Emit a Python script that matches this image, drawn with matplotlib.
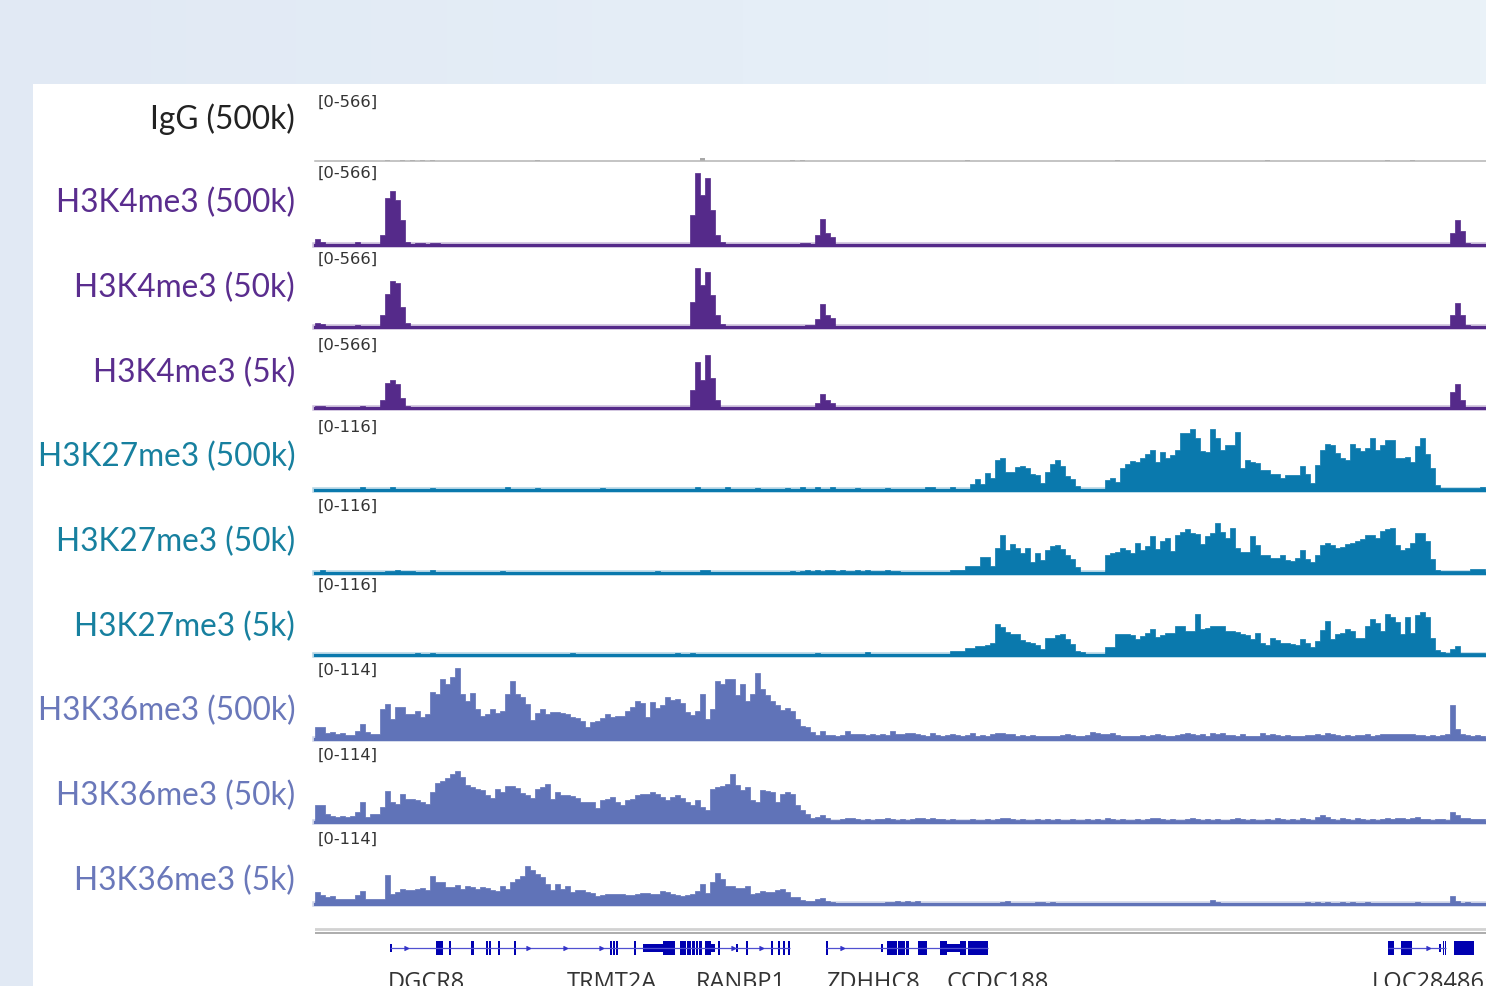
import numpy as np
import matplotlib
matplotlib.use("Agg")
import matplotlib.pyplot as plt
from matplotlib.colors import LinearSegmentedColormap
from matplotlib.patches import Rectangle

# ---------------- data ----------------
# genomic window in kb, signal binned at 0.5 kb
BIN = 0.5
N = 234
REGION_KB = 117.1

# sparse tracks: {bin index: value}, everything else sits at the floor value
igg_floor = 3
igg_peaks = {14: 8, 17: 7, 19: 7, 21: 8, 23: 7, 44: 5, 77: 22, 95: 7, 97: 7,
             130: 5, 160: 5, 190: 5, 214: 5, 219: 5}

k4_floor = 3
k4_500k = {0: 42, 1: 25, 8: 20, 13: 73, 14: 341, 15: 392, 16: 327, 17: 182, 18: 22,
           20: 15, 21: 12, 23: 15, 24: 12,
           75: 218, 76: 523, 77: 363, 78: 486, 79: 254, 80: 73, 81: 22,
           97: 12, 98: 15, 100: 73, 101: 189, 102: 87, 103: 58, 127: 10,
           227: 87, 228: 182, 229: 102, 230: 15}
k4_50k = {0: 29, 1: 22, 8: 15, 13: 87, 14: 240, 15: 334, 16: 320, 17: 145, 18: 29,
          19: 8, 20: 8, 21: 8, 22: 8, 23: 8, 24: 8,
          75: 182, 76: 428, 77: 305, 78: 399, 79: 232, 80: 87, 81: 22,
          98: 12, 99: 15, 100: 58, 101: 167, 102: 87, 103: 65,
          227: 87, 228: 174, 229: 87, 230: 15}
k4_5k = {0: 15, 1: 15, 9: 15, 13: 58, 14: 182, 15: 203, 16: 174, 17: 73, 18: 15,
         62: 10, 75: 131, 76: 334, 77: 203, 78: 385, 79: 218, 80: 58,
         100: 36, 101: 102, 102: 58, 103: 36, 126: 8,
         227: 116, 228: 174, 229: 58}

k27_500k = [
    2, 2, 2, 2, 2, 2, 2, 2, 2, 4,
    2, 2, 2, 2, 2, 4, 2, 2, 2, 2,
    2, 2, 2, 3, 2, 2, 2, 2, 2, 2,
    2, 2, 2, 2, 2, 2, 2, 2, 4, 2,
    2, 2, 2, 2, 3, 2, 2, 2, 2, 2,
    2, 2, 2, 2, 2, 2, 2, 3, 2, 2,
    2, 2, 2, 2, 2, 2, 2, 2, 2, 2,
    2, 2, 2, 2, 2, 2, 4, 2, 2, 2,
    2, 2, 4, 2, 2, 2, 2, 2, 3, 2,
    2, 2, 2, 2, 3, 2, 2, 4, 2, 2,
    4, 2, 2, 4, 2, 2, 2, 2, 3, 2,
    2, 2, 2, 2, 3, 2, 2,
    2, 2, 2, 2, 2, 4, 4, 2, 2, 2,
    4, 2, 2, 2, 9, 16, 9, 25, 18, 45,
    48, 27, 27, 34, 36, 33, 24, 22, 10, 27,
    39, 45, 36, 21, 16, 6, 2, 2, 2, 2,
    2, 15, 18, 12, 33, 39, 43, 42, 48, 54,
    60, 42, 57, 48, 52, 60, 85, 85, 90, 78,
    58, 57, 90, 78, 60, 67, 67, 87, 33, 45,
    42, 40, 30, 30, 24, 24, 18, 22, 22, 22,
    36, 24, 10, 37, 60, 69, 67, 55, 48, 45,
    69, 63, 58, 63, 78, 60, 67, 75, 75, 48,
    48, 49, 42, 66, 78, 54, 33, 7, 3, 3,
    3, 3, 3, 3, 3, 3, 4]

k27_50k = [
    2, 4, 2, 2, 2, 2, 2, 2, 2, 2,
    2, 2, 2, 2, 3, 3, 4, 3, 3, 3,
    2, 2, 2, 4, 2, 2, 2, 2, 2, 2,
    2, 2, 2, 2, 2, 2, 2, 3, 2, 2,
    2, 2, 2, 2, 2, 2, 2, 2, 2, 2,
    2, 2, 2, 2, 2, 2, 2, 2, 2, 2,
    2, 2, 2, 2, 2, 2, 2, 2, 3, 2,
    2, 2, 2, 2, 2, 2, 2, 5, 4, 2,
    2, 2, 2, 2, 2, 2, 2, 2, 2, 2,
    2, 2, 2, 2, 2, 3, 2, 3, 4, 3,
    4, 3, 4, 5, 3, 4, 3, 3, 4, 3,
    4, 3, 3, 3, 4, 3, 3,
    2, 2, 2, 2, 2, 2, 2, 2, 2, 2,
    4, 4, 4, 10, 10, 10, 24, 24, 10, 37,
    57, 34, 43, 37, 30, 37, 16, 30, 20, 34,
    40, 42, 36, 27, 21, 9, 2, 2, 2, 2,
    2, 27, 30, 31, 37, 34, 30, 45, 34, 40,
    55, 36, 48, 52, 33, 57, 61, 66, 60, 58,
    43, 55, 60, 75, 61, 52, 67, 37, 31, 31,
    55, 42, 27, 27, 22, 22, 27, 19, 18, 22,
    34, 21, 16, 27, 42, 45, 42, 37, 39, 43,
    45, 48, 51, 57, 57, 52, 63, 66, 67, 42,
    34, 37, 45, 60, 60, 48, 21, 4, 3, 3,
    3, 3, 3, 3, 6, 6, 6]

k27_5k = [
    2, 2, 2, 2, 2, 2, 2, 2, 2, 2,
    2, 2, 2, 2, 2, 2, 2, 2, 2, 2,
    3, 2, 2, 3, 2, 2, 2, 2, 2, 2,
    2, 2, 2, 2, 2, 2, 2, 2, 2, 2,
    2, 2, 2, 2, 2, 2, 2, 2, 2, 2,
    2, 3, 2, 2, 2, 2, 2, 2, 2, 2,
    2, 2, 2, 2, 2, 2, 2, 2, 2, 2,
    2, 2, 3, 2, 2, 3, 2, 2, 2, 2,
    2, 2, 2, 2, 2, 2, 2, 2, 2, 2,
    2, 2, 2, 2, 2, 2, 2, 2, 2, 2,
    3, 2, 2, 2, 2, 2, 2, 2, 2, 2,
    4, 2, 2, 2, 2, 2, 2,
    2, 2, 2, 2, 2, 2, 2, 2, 2, 2,
    6, 6, 6, 10, 10, 13, 13, 15, 18, 46,
    42, 34, 31, 31, 22, 19, 18, 15, 9, 25,
    25, 30, 31, 24, 16, 6, 4, 2, 2, 2,
    2, 12, 12, 31, 31, 31, 30, 24, 28, 33,
    39, 27, 30, 33, 33, 43, 43, 36, 36, 61,
    39, 40, 43, 43, 43, 36, 36, 34, 31, 30,
    24, 33, 18, 15, 25, 22, 18, 18, 16, 15,
    24, 18, 12, 21, 37, 51, 24, 31, 33, 39,
    36, 25, 25, 43, 54, 48, 36, 61, 57, 49,
    31, 57, 33, 60, 64, 57, 25, 7, 4, 3,
    9, 13, 3, 3, 3, 3, 3]

k36_500k = [
    18, 18, 9, 10, 7, 9, 6, 6, 12, 22,
    10, 7, 7, 44, 51, 29, 47, 47, 37, 37,
    41, 32, 37, 69, 66, 88, 80, 91, 104, 66,
    55, 67, 44, 34, 37, 44, 38, 41, 66, 85,
    66, 61, 51, 28, 38, 44, 37, 39, 39, 38,
    37, 32, 31, 26, 18, 25, 26, 31, 37, 32,
    34, 34, 41, 47, 55, 53, 32, 54, 45, 50,
    61, 57, 58, 53, 39, 35, 41, 66, 29, 44,
    85, 80, 88, 88, 64, 80, 55, 66, 96, 73,
    64, 55, 50, 42, 45, 41, 29, 19, 18, 10,
    6, 12, 6,
    6, 5, 6, 12, 7, 8, 7, 6, 8, 6,
    7, 6, 12, 8, 8, 9, 9, 7, 6, 5,
    9, 6, 5, 6, 7, 6, 5, 6, 9, 5,
    6, 4, 7, 9, 9, 8, 7, 5, 6, 5,
    6, 5, 4, 5, 4, 5, 6, 7, 6, 5,
    5, 6, 10, 9, 8, 7, 9, 6, 5, 4,
    5, 5, 6, 5, 6, 7, 6, 5, 5, 6,
    7, 9, 8, 6, 7, 5, 9, 8, 9, 6,
    6, 5, 7, 5, 4, 5, 9, 6, 7, 6,
    5, 6, 5, 4, 5, 6, 6, 7, 6, 9,
    7, 6, 5, 6, 5, 6, 6, 7, 5, 6,
    7, 8, 8, 7, 8, 8, 7, 6, 6, 5,
    6, 5, 6, 7, 50, 15, 7, 6, 5, 6,
    5]

k36_50k = [
    25, 25, 12, 9, 7, 9, 7, 9, 15, 29,
    7, 12, 12, 22, 45, 29, 26, 41, 34, 34,
    32, 29, 26, 44, 57, 60, 64, 70, 74, 66,
    54, 51, 48, 47, 39, 35, 48, 44, 53, 53,
    50, 42, 39, 35, 48, 51, 55, 34, 44, 39,
    39, 38, 35, 29, 29, 29, 20, 32, 34, 37,
    29, 25, 32, 34, 39, 41, 41, 44, 41, 37,
    32, 37, 39, 35, 29, 25, 32, 22, 18, 48,
    51, 53, 55, 70, 54, 47, 51, 32, 29, 47,
    45, 44, 29, 41, 44, 41, 25, 18, 12, 6,
    7, 10, 6,
    3, 3, 4, 6, 6, 4, 3, 4, 3, 5,
    4, 6, 4, 3, 4, 3, 5, 6, 6, 5,
    6, 4, 5, 3, 4, 3, 3, 3, 4, 3,
    3, 4, 3, 4, 6, 6, 4, 3, 4, 3,
    3, 4, 3, 4, 3, 4, 3, 3, 4, 3,
    3, 4, 3, 4, 3, 6, 4, 3, 4, 3,
    3, 4, 3, 4, 6, 6, 5, 3, 4, 3,
    3, 4, 6, 4, 3, 4, 3, 4, 3, 3,
    4, 6, 4, 3, 4, 3, 3, 4, 3, 6,
    4, 3, 4, 3, 6, 4, 3, 8, 10, 8,
    4, 3, 6, 4, 3, 6, 4, 3, 4, 3,
    4, 6, 5, 6, 6, 5, 6, 7, 5, 4,
    3, 4, 4, 3, 14, 10, 6, 6, 5, 4,
    4]

k36_5k = [
    18, 13, 10, 12, 7, 7, 7, 7, 13, 19,
    7, 7, 7, 7, 42, 15, 18, 22, 20, 20,
    22, 23, 20, 41, 32, 32, 25, 25, 28, 22,
    26, 25, 22, 25, 23, 20, 19, 26, 22, 32,
    37, 41, 55, 50, 44, 39, 29, 20, 29, 22,
    26, 18, 20, 20, 18, 16, 12, 13, 15, 15,
    15, 15, 13, 13, 15, 16, 16, 15, 15, 19,
    18, 15, 13, 12, 13, 15, 19, 29, 16, 32,
    45, 37, 26, 26, 23, 23, 26, 15, 16, 19,
    18, 18, 20, 22, 18, 10, 10, 6, 4, 4,
    7, 9, 4,
    3, 2, 2, 2, 2, 2, 2, 2, 2, 2,
    2, 3, 3, 4, 3, 4, 3, 4, 2, 2,
    2, 2, 2, 2, 2, 2, 2, 2, 2, 2,
    2, 2, 2, 2, 3, 5, 2, 2, 2, 2,
    2, 3, 3, 2, 3, 2, 2, 2, 2, 2,
    2, 2, 2, 2, 2, 2, 2, 2, 2, 2,
    2, 2, 2, 2, 2, 2, 2, 2, 2, 2,
    2, 2, 2, 2, 2, 2, 6, 3, 2, 2,
    2, 2, 2, 2, 2, 2, 2, 2, 2, 2,
    2, 2, 2, 2, 2, 3, 2, 3, 2, 3,
    2, 2, 3, 2, 3, 2, 2, 3, 2, 2,
    2, 2, 2, 2, 2, 2, 2, 3, 2, 2,
    2, 2, 2, 2, 12, 5, 2, 3, 2, 2,
    2]

track_names = ["IgG (500k)", "H3K4me3 (500k)", "H3K4me3 (50k)", "H3K4me3 (5k)",
               "H3K27me3 (500k)", "H3K27me3 (50k)", "H3K27me3 (5k)",
               "H3K36me3 (500k)", "H3K36me3 (50k)", "H3K36me3 (5k)"]
track_ranges = [566, 566, 566, 566, 116, 116, 116, 114, 114, 114]

# gene models (kb): intron lines, exons (start, end), UTR blocks (start, end)
gene_lines = [(7.5, 47.5), (51.1, 67.3), (107.3, 113.1)]
gene_exons = [(12.1, 12.8), (13.4, 13.6), (15.6, 15.9), (17.1, 17.3), (17.4, 17.6),
              (18.3, 18.5), (19.9, 20.1),
              (29.5, 29.7), (29.8, 30.0), (30.1, 30.3), (31.9, 32.1), (34.8, 36.0),
              (36.5, 37.1), (37.2, 37.6), (37.7, 38.0), (38.1, 38.3), (38.4, 38.7),
              (39.0, 39.6), (40.3, 40.5), (43.1, 43.3),
              (45.6, 45.8), (46.3, 46.5), (46.8, 47.0), (47.3, 47.5),
              (51.1, 51.3), (57.2, 58.2), (58.3, 59.0), (59.1, 59.4), (60.3, 61.2),
              (62.5, 63.2), (64.5, 65.1), (65.3, 67.3),
              (107.3, 107.9), (108.6, 109.7), (112.8, 112.9), (113.0, 113.1),
              (113.9, 115.9)]
gene_utrs = [(7.5, 7.7), (32.8, 34.8), (39.6, 40.0), (42.1, 42.3), (56.6, 56.8),
             (63.2, 64.5), (112.4, 112.6)]
gene_arrows = [9.3, 21.5, 25.2, 28.8, 42.0, 44.8, 52.9, 111.5]
gene_names = ["DGCR8", "TRMT2A", "RANBP1", "ZDHHC8", "CCDC188", "LOC284865"]
gene_name_pos = [7.3, 25.2, 38.1, 51.1, 63.1, 105.7]


def dense(peaks, floor):
    v = np.full(N, floor, dtype=float)
    for k, val in peaks.items():
        v[k] = val
    return v


signals = [dense(igg_peaks, igg_floor), dense(k4_500k, k4_floor),
           dense(k4_50k, k4_floor), dense(k4_5k, k4_floor),
           np.array(k27_500k, float), np.array(k27_50k, float), np.array(k27_5k, float),
           np.array(k36_500k, float), np.array(k36_50k, float), np.array(k36_5k, float)]

# ---------------- layout / style ----------------
W, H = 1486, 987
X0 = 315
TRACK_PX = 78
baselines = [162, 246, 328, 409, 491, 574, 656, 740, 823, 905]
label_y = [119, 203, 288, 373, 457, 542, 627, 711, 796, 881]
range_y = [102, 173, 259, 345, 427, 506, 585, 670, 755, 839]

purple, teal, slate = "#552a8a", "#0a79ad", "#6073b8"
fill_colors = ["#a8a8a8", purple, purple, purple, teal, teal, teal, slate, slate, slate]
label_colors = ["#222222", "#5a2d8e", "#5a2d8e", "#5a2d8e",
                "#17809f", "#17809f", "#17809f", "#6a78ba", "#6a78ba", "#6a78ba"]

fig = plt.figure(figsize=(W / 100, H / 100), dpi=100)

# background with soft gradient and the white panel
bg = fig.add_axes([0, 0, 1, 1])
cmap = LinearSegmentedColormap.from_list("bg", ["#e1e9f4", "#e5eef7", "#eaf2f8"])
grad = np.linspace(0, 1, 256)[None, :]
bg.imshow(grad, extent=[0, W, H, 0], aspect="auto", cmap=cmap)
bg.add_patch(Rectangle((33, 85), W - 33, H - 85, color="white", lw=0))
bg.set_xlim(0, W)
bg.set_ylim(H, 0)
bg.axis("off")

edges = np.arange(N + 1) * BIN

for i, vals in enumerate(signals):
    b = baselines[i]
    ax = fig.add_axes([X0 / W, 1 - b / H, (W - X0) / W, TRACK_PX / H])
    ax.set_xlim(0, REGION_KB)
    ax.set_ylim(0, track_ranges[i])
    ax.axis("off")
    c = fill_colors[i]
    yv = np.append(vals, vals[-1])
    if i == 0:
        ax.fill_between(edges, yv, step="post", color=c, lw=0)
        ax.axhline(0, color="#b4b4b4", lw=1.1, clip_on=False)
    else:
        ax.fill_between(edges, yv, step="post", facecolor=c, edgecolor=c, lw=0.5)
        ax.axhline(0, color=c, lw=4.0, alpha=0.3, clip_on=False)
        ax.axhline(0, color=c, lw=2.2, clip_on=False)

    fig.text(295 / W, 1 - label_y[i] / H, track_names[i], ha="right", va="center",
             fontsize=22.8, family="Lato", color=label_colors[i])
    fig.text(318 / W, 1 - range_y[i] / H, "[0-%d]" % track_ranges[i], ha="left",
             va="center", fontsize=11.8, family="DejaVu Sans", color="#333333")

# gene track
gax = fig.add_axes([X0 / W, 0, (W - X0) / W, (H - 925) / H])
gax.set_xlim(0, REGION_KB)
gax.set_ylim(H - 925, 0)  # pixels below y=925, downward
gax.axis("off")
gax.axhline(5, color="#d2d2d2", lw=2.0)
gax.axhline(9, color="#a6a6a6", lw=1.3)
gene_blue = "#0000b0"
for s, e in gene_lines:
    gax.plot([s, e], [24, 24], color="#5050d0", lw=0.9, solid_capstyle="butt")
gax.broken_barh([(s, e - s) for s, e in gene_exons], (17, 14), color=gene_blue, lw=0)
gax.broken_barh([(s, e - s) for s, e in gene_utrs], (20, 8), color=gene_blue, lw=0)
gax.plot(gene_arrows, [24] * len(gene_arrows), ls="none", marker=5, ms=3.5,
         color="#3333c8")
for name, pos in zip(gene_names, gene_name_pos):
    gax.text(pos, 46, name, ha="left", va="top", fontsize=17, family="Open Sans",
             color="#333333", clip_on=False)

fig.savefig("out.png", dpi=100)
